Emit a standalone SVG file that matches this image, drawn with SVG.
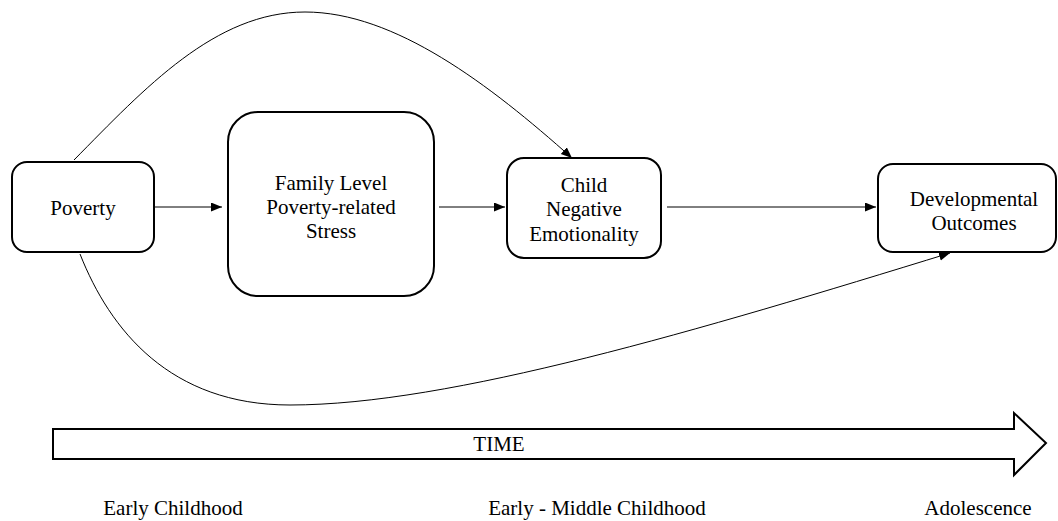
<svg xmlns="http://www.w3.org/2000/svg" width="1058" height="521" viewBox="0 0 1058 521">
<style>
.box{fill:#fff;stroke:#000;stroke-width:2}
text{font-family:'Liberation Serif','Times New Roman',Times,'DejaVu Serif',serif;font-size:21px;fill:#000;text-anchor:middle}
.c{fill:none;stroke:#000;stroke-width:1}
</style>
<defs>
<marker id="ah" markerUnits="userSpaceOnUse" markerWidth="12" markerHeight="10" refX="11" refY="4.5" orient="auto">
<path d="M0,0 L11,4.5 L0,9 z" fill="#000"/>
</marker>
</defs>
<rect width="1058" height="521" fill="#fff"/>
<g id="connectors">
<path class="c" d="M155,207 H222" marker-end="url(#ah)"/>
<path class="c" d="M439,207 H505" marker-end="url(#ah)"/>
<path class="c" d="M667,207 H876" marker-end="url(#ah)"/>
<path class="c" d="M74,160 C145,88 215,12 305,12 C395,12 490,85 572,158" marker-end="url(#ah)"/>
<path class="c" d="M80,254 C110,330 170,405 290,405 C450,405 700,330 950,253" marker-end="url(#ah)"/>
</g>
<g id="poverty">
<rect class="box" x="12" y="162" width="142" height="90" rx="15"/>
<text x="83" y="215" font-family="Liberation Serif, serif">Poverty</text>
</g>
<g id="family">
<rect class="box" x="228" y="112" width="206" height="184" rx="30"/>
<text x="331" y="190">Family Level</text>
<text x="331" y="214">Poverty-related</text>
<text x="331" y="238">Stress</text>
</g>
<g id="child">
<rect class="box" x="507" y="158" width="154" height="100" rx="17"/>
<text x="584" y="192">Child</text>
<text x="584" y="216">Negative</text>
<text x="584" y="241">Emotionality</text>
</g>
<g id="outcomes">
<rect class="box" x="878" y="164" width="178" height="88" rx="15"/>
<text x="974" y="206">Developmental</text>
<text x="974" y="230">Outcomes</text>
</g>
<g id="time">
<polygon class="box" points="53,429 1014,429 1014,413 1046,443 1014,475 1014,459 53,459"/>
<text x="499" y="451">TIME</text>
</g>
<g id="labels">
<text x="173" y="515">Early Childhood</text>
<text x="597" y="515">Early - Middle Childhood</text>
<text x="978" y="515">Adolescence</text>
</g>
</svg>
